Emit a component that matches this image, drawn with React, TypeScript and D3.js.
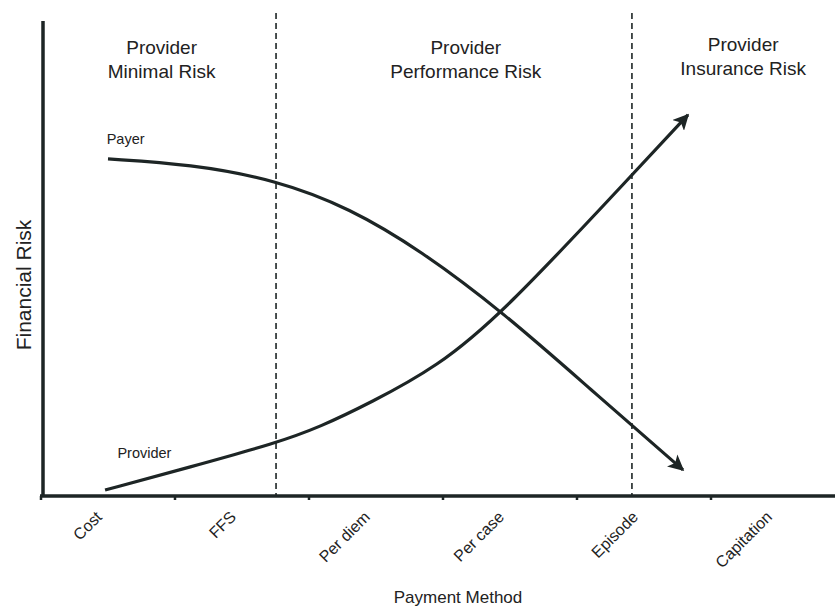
import React from "react";
import * as d3 from "d3";

const categories = ["Cost", "FFS", "Per diem", "Per case", "Episode", "Capitation"];
const payerX = [0, 0.612, 1.254, 1.806, 2.328, 2.955, 3.597, 4.291];
const payerY = [70.9, 69.8, 66.5, 60.5, 51.7, 38.4, 22.4, 5.3];
const providerX = [-0.022, 0.612, 1.261, 1.582, 1.955, 2.455, 2.948, 3.91, 4.328];
const providerY = [1.05, 5.9, 11.0, 14.35, 19.4, 27.0, 38.4, 67.5, 80.2];
const zoneBounds = [1.254, 3.91];
const zoneTitles = [
  { x: 0.4, lines: ["Provider", "Minimal Risk"] },
  { x: 2.67, lines: ["Provider", "Performance Risk"] },
  { x: 4.74, lines: ["Provider", "Insurance Risk"] },
];
const seriesLabels = [
  { name: "Payer", x: -0.01, y: 74.0 },
  { name: "Provider", x: 0.07, y: 7.8 },
];

const W = 835;
const H = 606;
const INK = "#1d2525";
const FONT = "'Liberation Sans', Arial, sans-serif";

export default function App() {
  const x = d3.scaleLinear().domain([-0.5, 5.5]).range([41, 845]);
  const y = d3.scaleLinear().domain([0, 100]).range([495, 21]);
  const line = d3
    .line<[number, number]>()
    .x((d) => x(d[0]))
    .y((d) => y(d[1]))
    .curve(d3.curveBasis);
  const payer = payerX.map((v, i) => [v, payerY[i]] as [number, number]);
  const provider = providerX.map((v, i) => [v, providerY[i]] as [number, number]);
  const tickPos = d3.range(0, categories.length + 1).map((i) => i - 0.5);

  return (
    <svg
      width={W}
      height={H}
      style={{ position: "absolute", left: 0, top: 0, background: "#fff" }}
      fontFamily={FONT}
    >
      <defs>
        <marker
          id="arrow"
          viewBox="0 0 10 10"
          refX="9"
          refY="5"
          markerWidth="5"
          markerHeight="5"
          markerUnits="strokeWidth"
          orient="auto"
        >
          <path d="M0,0 L10,5 L0,10 L2.5,5 Z" fill={INK} />
        </marker>
      </defs>

      {/* dashed zone boundaries */}
      {zoneBounds.map((b, i) => (
        <line
          key={i}
          x1={x(b)}
          x2={x(b)}
          y1={13}
          y2={y(0)}
          stroke={INK}
          strokeWidth={1.6}
          strokeDasharray="6,4"
        />
      ))}

      {/* axes */}
      <line x1={43} x2={43} y1={21} y2={497} stroke={INK} strokeWidth={3.5} />
      <line x1={40} x2={W} y1={496} y2={496} stroke={INK} strokeWidth={3.5} />
      {tickPos.map((t, i) => (
        <line key={i} x1={x(t)} x2={x(t)} y1={496} y2={500} stroke={INK} strokeWidth={2.5} />
      ))}

      {/* category labels */}
      {categories.map((c, i) => (
        <text
          key={c}
          transform={`translate(${x(i) - 5},${518}) rotate(-45)`}
          textAnchor="end"
          fontSize={16}
          fill="#222"
        >
          {c}
        </text>
      ))}

      {/* curves */}
      <path d={line(payer) ?? ""} fill="none" stroke={INK} strokeWidth={3.2} markerEnd="url(#arrow)" />
      <path d={line(provider) ?? ""} fill="none" stroke={INK} strokeWidth={3.2} markerEnd="url(#arrow)" />

      {seriesLabels.map((s) => (
        <text key={s.name} x={x(s.x)} y={y(s.y)} fontSize={14.5} fill="#222">
          {s.name}
        </text>
      ))}

      {/* zone titles */}
      {zoneTitles.map((z, i) => (
        <text key={i} textAnchor="middle" fontSize={19} fill="#222">
          {z.lines.map((l, j) => (
            <tspan key={j} x={x(z.x)} y={(i === 2 ? 51 : 54) + j * 24}>
              {l}
            </tspan>
          ))}
        </text>
      ))}

      {/* axis titles */}
      <text
        transform={`translate(31,285) rotate(-90)`}
        textAnchor="middle"
        fontSize={21}
        fill="#222"
      >
        Financial Risk
      </text>
      <text x={458} y={603} textAnchor="middle" fontSize={17} fill="#222">
        Payment Method
      </text>
    </svg>
  );
}
